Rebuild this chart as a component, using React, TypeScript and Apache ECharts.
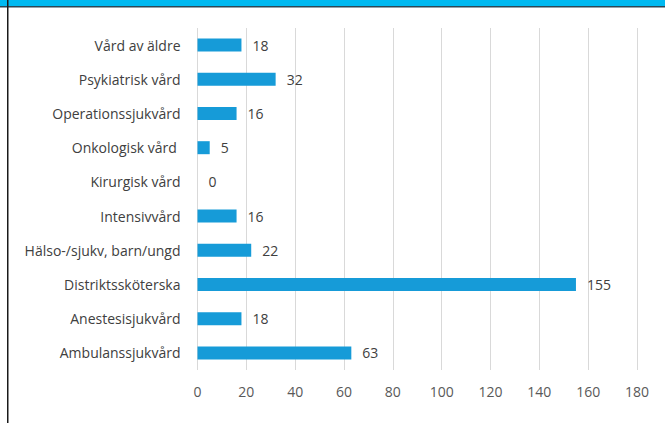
import React, { useEffect, useRef } from "react";
import * as echarts from "echarts";

const categories = [
  "Ambulanssjukvård",
  "Anestesisjukvård",
  "Distriktssköterska",
  "Hälso-/sjukv, barn/ungd",
  "Intensivvård",
  "Kirurgisk vård",
  "Onkologisk vård ",
  "Operationssjukvård",
  "Psykiatrisk vård",
  "Vård av äldre",
];
const values = [63, 18, 155, 22, 16, 0, 5, 16, 32, 18];
const xMax = 180;
const xInterval = 20;

export default function App() {
  const ref = useRef<HTMLDivElement>(null);
  useEffect(() => {
    document.body.style.margin = "0";
    const chart = echarts.init(ref.current!, null, { renderer: "svg" });
    const font = "'Open Sans', 'Liberation Sans', sans-serif";
    chart.setOption({
      animation: false,
      backgroundColor: "#ffffff",
      grid: { left: 197.5, right: 28, top: 28, bottom: 53, containLabel: false },
      xAxis: {
        type: "value",
        min: 0,
        max: xMax,
        interval: xInterval,
        axisLine: { show: false },
        axisTick: { show: false },
        splitLine: { show: true, lineStyle: { color: "#d9d9d9", width: 1 } },
        axisLabel: { color: "#595959", fontSize: 14, fontFamily: font, margin: 14 },
      },
      yAxis: {
        type: "category",
        data: categories,
        axisLine: { show: false },
        axisTick: { show: false },
        axisLabel: { color: "#404040", fontSize: 14, fontFamily: font, margin: 17 },
      },
      series: [
        {
          type: "bar",
          data: values,
          barWidth: 13,
          itemStyle: { color: "#169bd8" },
          label: {
            show: true,
            position: "right",
            distance: 11,
            color: "#404040",
            fontSize: 14,
            fontFamily: font,
          },
        },
      ],
      graphic: [
        { type: "rect", shape: { x: 0, y: 0, width: 665, height: 6 }, style: { fill: "#00b9f1" }, z: 10 },
        { type: "rect", shape: { x: 0, y: 6, width: 665, height: 1.5 }, style: { fill: "#2b4756" }, z: 10 },
        { type: "rect", shape: { x: 7, y: 0, width: 1.5, height: 423 }, style: { fill: "#1a1a1a" }, z: 11 },
      ],
    });
    return () => chart.dispose();
  }, []);
  return <div ref={ref} style={{ width: 665, height: 423 }} />;
}
